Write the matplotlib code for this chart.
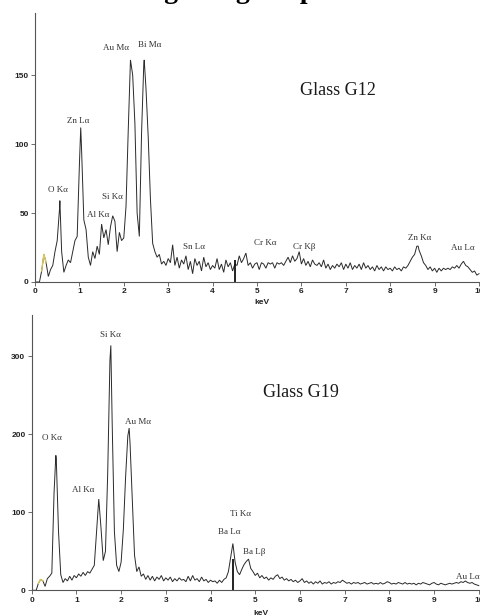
import numpy as np
import matplotlib
matplotlib.use("Agg")
import matplotlib.pyplot as plt

# ---------------- data ----------------
kev_step = 0.05
n_channels = 201  # 0.00 .. 10.00 keV

g12_counts = [
    0, 0, 0, 8, 20, 14, 4, 9, 12, 22, 30, 52, 22, 7, 12, 16, 14, 22, 30, 33,
    85, 95, 45, 38, 18, 12, 22, 17, 26, 20, 42, 32, 38, 27, 40, 48, 44, 22, 36, 30,
    32, 55, 110, 161, 150, 115, 50, 33, 108, 158, 140, 105, 60, 28, 22, 18, 20, 13, 15, 12,
    17, 14, 27, 12, 18, 10, 16, 13, 19, 9, 15, 6, 17, 12, 15, 8, 18, 11, 14, 9,
    12, 10, 17, 9, 13, 7, 16, 11, 14, 8, 13, 12, 19, 14, 17, 21, 12, 14, 10, 13,
    14, 9, 14, 13, 10, 14, 13, 14, 10, 14, 13, 14, 12, 15, 18, 14, 19, 15, 17, 22,
    13, 17, 12, 15, 11, 16, 13, 12, 14, 11, 16, 10, 13, 9, 12, 10, 13, 11, 14, 9,
    13, 10, 14, 9, 12, 10, 13, 9, 14, 10, 12, 9, 11, 8, 12, 9, 11, 8, 11, 9,
    10, 8, 11, 9, 10, 8, 11, 10, 12, 15, 18, 20, 26, 23, 19, 14, 12, 9, 11, 8,
    10, 7, 10, 8, 10, 9, 10, 9, 11, 10, 12, 10, 13, 15, 12, 11, 9, 7, 8, 5,
    6,
]
g12_apex_kev = [0.56, 1.03, 2.46, 8.63]
g12_apex_counts = [59, 112, 161, 26]

g19_counts = [
    0, 0, 0, 9, 14, 12, 5, 15, 18, 22, 125, 168, 75, 20, 10, 15, 12, 18, 13, 19,
    16, 21, 18, 23, 19, 24, 22, 27, 32, 75, 117, 80, 38, 50, 150, 295, 215, 75, 32, 24,
    36, 78, 145, 198, 188, 115, 45, 24, 30, 18, 21, 14, 19, 13, 18, 12, 17, 14, 19, 12,
    16, 13, 17, 11, 15, 12, 16, 13, 14, 11, 18, 12, 19, 13, 15, 11, 17, 12, 14, 10,
    13, 11, 12, 9, 13, 10, 14, 16, 24, 42, 60, 36, 24, 20, 27, 33, 37, 40, 28, 24,
    19, 22, 16, 19, 15, 17, 13, 16, 14, 18, 20, 15, 17, 13, 15, 12, 14, 11, 13, 10,
    12, 15, 10, 12, 9, 11, 8, 11, 9, 12, 8, 10, 9, 11, 8, 10, 9, 11, 10, 13,
    11, 9, 10, 8, 10, 9, 10, 8, 9, 10, 8, 9, 10, 8, 9, 8, 10, 8, 9, 11,
    10, 8, 9, 8, 10, 9, 8, 10, 8, 9, 8, 9, 7, 9, 8, 10, 9, 8, 7, 9,
    10, 8, 7, 9, 8, 7, 8, 9, 8, 9, 10, 9, 11, 10, 12, 10, 9, 10, 8, 7,
    6,
]
g19_apex_kev = [0.54, 1.77, 2.18]
g19_apex_counts = [173, 314, 208]

xticks = list(range(0, 11))
g12_yticks = [0, 50, 100, 150]
g19_yticks = [0, 100, 200, 300]

marker_kev = 4.5
g12_marker_height = 16
g19_marker_height = 40

g12_labels = ["O Kα", "Zn Lα", "Al Kα", "Si Kα", "Au Mα", "Bi Mα", "Sn Lα",
              "Cr Kα", "Cr Kβ", "Zn Kα", "Au Lα"]
g12_label_kev = [0.30, 0.73, 1.16, 1.52, 1.54, 2.31, 3.34, 4.94, 5.80, 8.39, 9.38]
g12_label_cts = [66.7, 117, 48.5, 61.6, 169.6, 171.7, 25.4, 28.3, 25.4, 31.9, 24.6]

g19_labels = ["O Kα", "Si Kα", "Au Mα", "Al Kα", "Ti Kα", "Ba Lα", "Ba Lβ", "Au Lα"]
g19_label_kev = [0.24, 1.52, 2.08, 0.91, 4.43, 4.16, 4.72, 9.50]
g19_label_cts = [195, 327, 216, 128.6, 97.8, 74.7, 49.1, 17]


def spectrum(counts, apex_kev, apex_counts):
    kev = np.arange(len(counts)) * kev_step
    e = np.concatenate([kev, np.array(apex_kev)])
    c = np.concatenate([np.array(counts, float), np.array(apex_counts, float)])
    order = np.argsort(e, kind="stable")
    return e[order], c[order]


# ---------------- figure ----------------
W, H = 481, 616
fig = plt.figure(figsize=(W / 100, H / 100), dpi=100)
fig.patch.set_facecolor("white")

sans = ["Liberation Sans", "DejaVu Sans"]
serif = ["Liberation Serif", "DejaVu Serif"]
line_col = "#2a2a2a"
spine_col = "#555555"

ax1 = fig.add_axes([35 / W, (H - 282) / H, (W - 35) / W, (282 - 13) / H])
ax2 = fig.add_axes([31.7 / W, (H - 590.3) / H, (W - 31.7) / W, (590.3 - 315) / H])

panels = [
    (ax1, g12_counts, g12_apex_kev, g12_apex_counts, g12_yticks, (0, 195), 10.045,
     g12_marker_height, g12_labels, g12_label_kev, g12_label_cts, "Glass G12", (5.97, 139), -0.078),
    (ax2, g19_counts, g19_apex_kev, g19_apex_counts, g19_yticks, (0, 353), 10.05,
     g19_marker_height, g19_labels, g19_label_kev, g19_label_cts, "Glass G19", (5.17, 254), -0.083),
]

for (ax, counts, akev, acts, yt, ylim, xmax, mh, labs, lk, lc, name, npos, kev_y) in panels:
    e, c = spectrum(counts, akev, acts)
    ax.plot(e, c, color=line_col, lw=0.7, solid_joinstyle="miter")
    # yellowish low-energy segment
    ax.plot(e[(e >= 0.14) & (e <= 0.26)], c[(e >= 0.14) & (e <= 0.26)],
            color="#d8c860", lw=1.0)
    ax.vlines(marker_kev, 0, mh, color="#111111", lw=1.3)
    ax.set_xlim(0, xmax)
    ax.set_ylim(*ylim)
    for s in ("top", "right"):
        ax.spines[s].set_visible(False)
    for s in ("left", "bottom"):
        ax.spines[s].set_color(spine_col)
        ax.spines[s].set_linewidth(0.8)
    ax.set_xticks(xticks, [str(t) for t in xticks], fontsize=6, fontweight="bold",
                  family=sans)
    ax.set_yticks(yt, [str(t) for t in yt], fontsize=6, fontweight="bold", family=sans)
    ax.tick_params(direction="out", length=3, width=0.6, color=spine_col, pad=1.5,
                   labelcolor="#222222")
    ax.patch.set_alpha(0)
    for t, x, y in zip(labs, lk, lc):
        ax.text(x, y, t, fontsize=6.5, family=serif, color="#333333",
                ha="left", va="center")
    ax.text(npos[0], npos[1], name, fontsize=13, family=serif, color="#1a1a1a",
            ha="left", va="center")
    ax.text(5.12, kev_y, "keV", transform=ax.get_xaxis_transform(), fontsize=6,
            fontweight="bold", family=sans, ha="center", va="center", color="#222222")

# partially visible heading (only descenders show at the top edge)
fig.text(86 / W, 1 + 2.5 / H, "Tracing of a glass phase", fontsize=20,
         family=serif, fontweight="bold", ha="left", va="baseline")

fig.savefig("out.png", dpi=100, facecolor="white")
